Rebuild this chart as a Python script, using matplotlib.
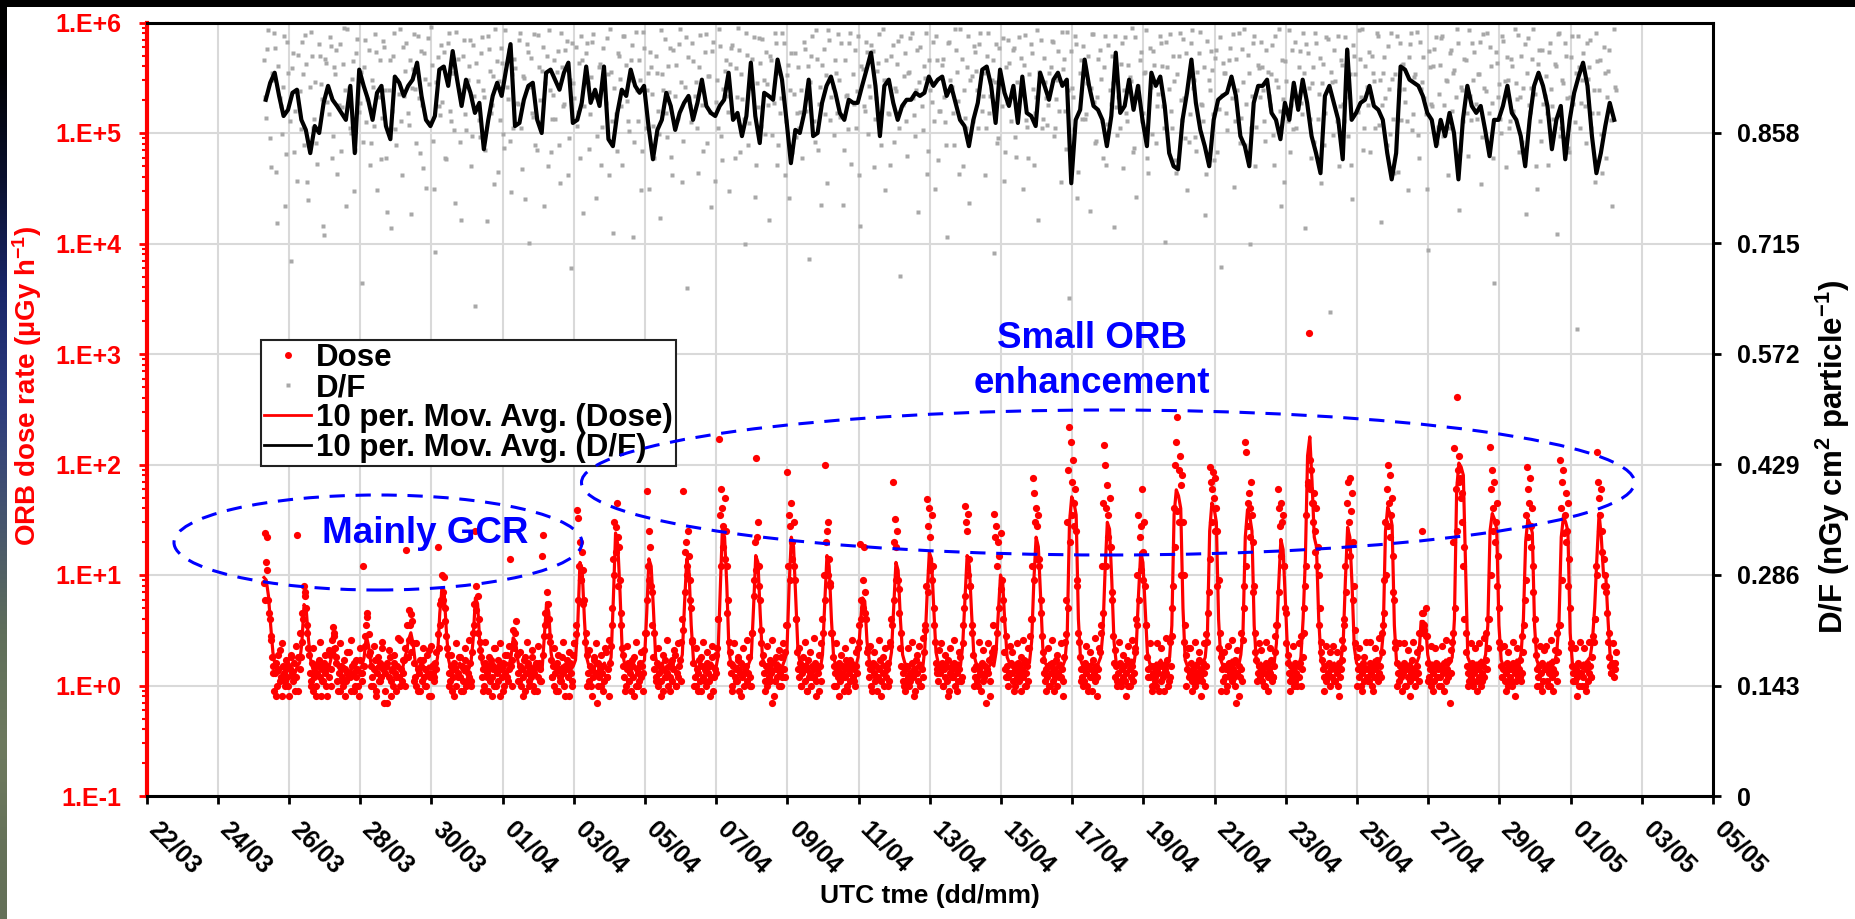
import numpy as np
import matplotlib
matplotlib.use("Agg")
import matplotlib.pyplot as plt
from matplotlib.patches import Ellipse, Rectangle
from matplotlib.lines import Line2D
from matplotlib.ticker import LogLocator, NullFormatter
from matplotlib.transforms import ScaledTranslation, blended_transform_factory

plt.rcParams['font.family'] = ['Liberation Sans', 'DejaVu Sans']
plt.rcParams['font.weight'] = 'bold'
plt.rcParams['mathtext.fontset'] = 'custom'
plt.rcParams['mathtext.rm'] = 'Liberation Sans:bold'
plt.rcParams['mathtext.it'] = 'Liberation Sans:bold'
plt.rcParams['mathtext.bf'] = 'Liberation Sans:bold'

# ---------------------------------------------------------------- data
# x axis in days after 22/03 00:00 UTC
x_tick_days = list(range(0, 45, 2))
x_tick_labels = ["22/03", "24/03", "26/03", "28/03", "30/03", "01/04", "03/04",
                 "05/04", "07/04", "09/04", "11/04", "13/04", "15/04", "17/04",
                 "19/04", "21/04", "23/04", "25/04", "27/04", "29/04", "01/05",
                 "03/05", "05/05"]
left_tick_values = [1e-1, 1e0, 1e1, 1e2, 1e3, 1e4, 1e5, 1e6]
left_tick_labels = ["1.E-1", "1.E+0", "1.E+1", "1.E+2", "1.E+3", "1.E+4", "1.E+5", "1.E+6"]
right_tick_values = [0, 0.143, 0.286, 0.429, 0.572, 0.715, 0.858]
right_tick_labels = ["0", "0.143", "0.286", "0.429", "0.572", "0.715", "0.858"]
legend_labels = ["Dose", "D/F", "10 per. Mov. Avg. (Dose)", "10 per. Mov. Avg. (D/F)"]

# Dose rate (uGy/h): one row per day starting at day 3.3, 32 samples per day
dose_start = 3.3
dose_rows = [
    [8.5, 24, 13, 22, 6.0, 4.0, 2.6, 1.8, 1.5, 0.9, 1.3, 1.6, 1.0, 1.4, 2.1, 1.2, 0.8, 1.5, 1.3, 1.1, 1.7, 1.2, 1.0, 1.4, 1.9, 1.3, 1.1, 1.6, 0.9, 1.2, 23, 1.8],
    [1.4, 1.8, 2.5, 4.0, 8.0, 6.5, 5.0, 3.0, 2.2, 1.3, 1.1, 1.6, 0.9, 1.2, 1.5, 1.0, 1.3, 1.7, 1.2, 0.8, 1.4, 1.1, 1.6, 1.3, 1.0, 1.5, 1.2, 1.9, 1.4, 2.6, 3.4, 2.8],
    [2.2, 1.6, 1.1, 1.3, 0.9, 1.5, 1.2, 1.0, 1.7, 1.4, 1.1, 1.3, 2.0, 1.2, 0.9, 1.5, 1.3, 1.6, 1.0, 1.2, 1.4, 0.8, 1.7, 1.3, 1.1, 12, 1.5, 2.3, 3.5, 4.2, 2.9, 2.0],
    [1.5, 1.2, 1.0, 1.4, 1.7, 0.9, 1.3, 1.1, 1.6, 1.2, 2.2, 1.4, 0.7, 1.3, 1.5, 0.7, 1.2, 1.8, 1.1, 1.4, 1.0, 1.6, 1.3, 0.9, 1.5, 1.2, 2.6, 1.4, 1.1, 1.3, 1.7, 1.0],
    [17, 1.8, 2.6, 3.5, 4.4, 3.8, 2.4, 1.6, 1.2, 1.0, 1.4, 1.3, 0.9, 1.5, 1.1, 1.7, 1.2, 1.4, 1.0, 1.3, 2.1, 1.2, 0.8, 1.5, 1.3, 1.1, 1.6, 1.4, 18, 2.2, 3.5, 6.0],
    [10, 7.0, 9.5, 5.0, 2.8, 1.9, 1.3, 1.1, 1.5, 0.9, 1.2, 1.6, 1.4, 1.0, 1.3, 1.8, 1.2, 0.9, 1.5, 1.1, 1.4, 1.7, 1.0, 1.3, 1.2, 1.6, 1.1, 2.0, 3.0, 5.5, 25, 8.0],
    [6.5, 4.0, 2.5, 1.8, 1.2, 1.4, 1.0, 1.6, 1.3, 0.9, 1.5, 1.1, 1.7, 1.2, 1.4, 1.0, 2.2, 1.3, 1.1, 1.5, 0.8, 1.4, 1.2, 1.6, 1.0, 1.3, 1.9, 1.1, 1.4, 14, 1.5, 1.7],
    [3.2, 2.4, 3.0, 1.9, 1.3, 1.1, 1.5, 1.0, 1.4, 1.2, 1.7, 0.9, 1.3, 1.6, 1.1, 1.4, 1.2, 1.8, 1.0, 1.3, 1.5, 0.9, 1.2, 1.6, 1.4, 1.1, 15, 23, 2.8, 4.5, 7.0, 5.5],
    [4.0, 2.5, 1.7, 1.2, 1.5, 1.0, 1.3, 1.6, 0.9, 1.4, 1.2, 1.1, 1.8, 1.3, 1.0, 1.5, 1.4, 1.2, 0.8, 1.6, 1.3, 1.1, 1.9, 2.4, 3.5, 39, 33, 12, 20, 9.0, 16, 11],
    [6.0, 3.0, 1.9, 1.3, 1.1, 1.5, 1.0, 1.4, 1.2, 1.7, 1.3, 0.7, 1.6, 1.2, 1.4, 1.0, 1.3, 1.5, 1.1, 2.0, 1.2, 1.4, 0.8, 1.6, 2.3, 5.0, 14, 30, 27, 45, 22, 18],
    [9.0, 4.5, 2.2, 1.5, 1.2, 1.0, 1.4, 1.6, 1.1, 1.3, 0.9, 1.5, 1.2, 1.8, 1.0, 1.4, 1.3, 1.1, 1.6, 1.2, 1.5, 0.9, 2.1, 3.0, 58, 12, 25, 18, 8.0, 3.5, 1.8, 1.4],
    [1.2, 1.6, 1.0, 1.3, 1.5, 1.1, 1.4, 0.9, 1.7, 1.2, 1.3, 1.0, 1.5, 1.2, 1.6, 1.1, 1.4, 1.9, 1.0, 1.3, 1.2, 1.5, 1.7, 2.5, 4.0, 58, 16, 20, 12, 25, 15, 9.0],
    [5.0, 2.5, 1.6, 1.2, 1.0, 1.4, 1.3, 1.7, 1.1, 0.9, 1.5, 1.2, 1.4, 1.0, 1.6, 1.3, 1.1, 1.5, 1.2, 1.8, 0.9, 1.4, 1.3, 2.2, 4.0, 170, 35, 60, 40, 28, 50, 25],
    [12, 6.0, 2.5, 1.6, 1.3, 1.0, 1.5, 1.2, 1.4, 1.1, 1.7, 0.9, 1.3, 1.6, 1.2, 1.0, 1.4, 1.5, 1.1, 1.3, 1.8, 1.2, 1.0, 3.0, 9.0, 20, 115, 22, 30, 12, 6.0, 2.4],
    [1.6, 1.3, 1.1, 1.5, 1.0, 1.4, 1.2, 1.7, 1.3, 0.7, 1.6, 1.1, 1.4, 1.2, 1.5, 1.0, 1.3, 1.8, 1.2, 1.4, 2.0, 3.5, 85, 12, 35, 28, 45, 20, 30, 9.0, 4.0, 2.0],
    [1.4, 1.2, 1.6, 1.0, 1.3, 1.5, 1.1, 1.4, 0.9, 1.7, 1.2, 1.3, 1.0, 1.5, 1.2, 1.6, 1.1, 1.4, 1.3, 0.9, 1.5, 2.4, 4.0, 10, 98, 20, 25, 30, 14, 8.0, 3.0, 1.8],
    [1.5, 1.3, 1.0, 1.4, 1.2, 1.6, 1.1, 1.3, 1.5, 0.9, 1.2, 1.7, 1.0, 1.4, 1.3, 1.1, 1.6, 1.2, 1.4, 1.0, 1.5, 1.3, 2.2, 3.5, 19, 6.0, 9.0, 18, 7.0, 4.0, 2.0, 1.6],
    [1.2, 1.4, 1.0, 1.6, 1.3, 1.1, 1.5, 0.9, 1.2, 1.4, 1.7, 1.1, 1.3, 1.0, 1.5, 1.2, 1.4, 1.6, 1.1, 2.3, 4.0, 70, 20, 32, 18, 25, 9.0, 4.5, 2.2, 1.5, 1.3, 1.0],
    [1.4, 1.1, 1.5, 1.2, 1.0, 1.3, 1.6, 1.2, 1.4, 0.9, 1.7, 1.3, 1.1, 1.5, 1.0, 1.4, 1.2, 2.0, 3.2, 8.0, 49, 28, 40, 22, 35, 12, 5.0, 2.5, 1.6, 1.3, 1.1, 1.4],
    [1.3, 1.6, 1.0, 1.4, 1.2, 1.5, 1.1, 1.7, 0.9, 1.3, 1.4, 1.2, 1.6, 1.0, 1.5, 1.3, 1.1, 1.4, 1.8, 1.2, 2.4, 5.0, 42, 30, 25, 36, 14, 8.0, 3.5, 1.9, 1.4, 1.2],
    [1.5, 1.2, 1.0, 1.4, 1.3, 1.6, 1.1, 1.2, 1.5, 0.7, 1.4, 1.3, 1.7, 1.1, 2.0, 3.5, 36, 22, 28, 12, 20, 15, 24, 9.0, 4.0, 2.0, 1.4, 1.2, 1.5, 1.0, 1.3, 1.6],
    [1.3, 1.1, 1.5, 1.0, 1.4, 1.2, 1.6, 1.3, 0.9, 1.4, 1.2, 1.7, 1.0, 1.3, 1.5, 1.1, 2.2, 4.0, 12, 75, 55, 30, 40, 28, 35, 14, 6.0, 2.8, 1.7, 1.3, 1.1, 1.4],
    [1.2, 1.5, 1.0, 1.3, 1.6, 1.1, 1.4, 1.2, 1.7, 1.0, 1.3, 1.5, 1.2, 1.4, 1.1, 1.8, 2.5, 6.0, 30, 90, 220, 160, 70, 110, 45, 60, 25, 8.0, 3.0, 1.8, 1.4, 1.2],
    [1.4, 1.1, 1.6, 1.3, 1.0, 1.5, 1.2, 1.4, 0.9, 1.7, 1.3, 1.1, 1.5, 1.2, 1.4, 2.0, 3.5, 12, 45, 150, 100, 40, 65, 35, 50, 18, 7.0, 2.8, 1.6, 1.2, 1.5, 1.1],
    [1.3, 1.6, 1.0, 1.4, 1.2, 1.5, 1.1, 1.3, 1.7, 1.0, 1.4, 1.2, 1.5, 1.1, 1.3, 2.2, 4.0, 10, 35, 22, 28, 60, 16, 30, 8.0, 3.5, 1.8, 1.4, 1.2, 1.5, 1.0, 1.3],
    [1.5, 1.2, 1.0, 1.4, 1.3, 1.6, 1.1, 1.5, 1.2, 0.9, 1.4, 1.3, 1.7, 1.1, 1.2, 1.5, 2.8, 8.0, 40, 100, 160, 270, 90, 120, 65, 80, 30, 10, 3.5, 1.9, 1.4, 1.2],
    [1.3, 1.6, 1.1, 1.4, 1.2, 1.0, 1.5, 1.3, 1.7, 1.2, 1.4, 1.1, 1.6, 1.3, 1.0, 1.5, 2.5, 7.0, 95, 70, 60, 85, 50, 75, 40, 25, 9.0, 3.0, 1.8, 1.4, 1.1, 1.5],
    [1.2, 1.4, 1.0, 1.6, 1.3, 1.5, 1.1, 1.4, 1.2, 1.7, 0.7, 1.3, 1.5, 1.2, 1.4, 1.1, 2.6, 8.0, 160, 130, 45, 55, 40, 70, 35, 20, 8.0, 3.0, 1.7, 1.3, 1.5, 1.2],
    [1.4, 1.1, 1.5, 1.3, 1.0, 1.6, 1.2, 1.4, 1.3, 1.7, 1.1, 1.2, 1.5, 2.0, 3.5, 60, 40, 28, 45, 30, 35, 12, 5.0, 2.4, 1.6, 1.3, 1.1, 1.5, 1.2, 1.4, 1.0, 1.6],
    [1.3, 1.5, 1.2, 1.6, 1.0, 1.4, 1.8, 3.0, 8.0, 35, 70, 1560, 60, 90, 45, 30, 55, 25, 40, 18, 10, 5.0, 2.5, 1.7, 1.4, 1.2, 1.5, 1.1, 1.3, 1.6, 1.0, 1.4],
    [1.2, 1.5, 1.1, 1.4, 1.3, 1.0, 1.6, 1.2, 1.4, 1.7, 2.2, 4.0, 12, 45, 70, 30, 75, 38, 55, 20, 8.0, 3.2, 1.8, 1.4, 1.2, 1.5, 1.0, 1.3, 1.6, 1.1, 1.4, 1.2],
    [1.4, 1.1, 1.6, 1.3, 1.0, 1.5, 1.2, 1.4, 1.7, 1.1, 1.3, 1.5, 1.2, 2.0, 3.5, 9.0, 30, 60, 100, 45, 80, 35, 50, 15, 6.0, 2.5, 1.6, 1.3, 1.1, 1.5, 1.2, 1.4],
    [1.3, 1.6, 1.0, 1.4, 1.2, 1.5, 1.1, 1.3, 1.7, 1.2, 1.4, 1.0, 1.5, 1.3, 1.1, 2.2, 3.0, 25, 4.5, 3.5, 5.0, 2.8, 1.6, 1.2, 1.4, 1.0, 1.5, 1.3, 1.1, 1.6, 1.2, 1.4],
    [1.5, 1.2, 1.0, 1.4, 1.3, 1.6, 1.1, 1.4, 1.2, 1.7, 0.7, 1.3, 2.5, 20, 140, 60, 410, 90, 120, 75, 50, 30, 12, 4.0, 2.0, 1.5, 1.3, 1.1, 1.4, 1.2, 1.6, 1.0],
    [1.3, 1.5, 1.1, 1.4, 1.2, 1.6, 1.0, 1.3, 1.5, 1.2, 1.7, 1.4, 2.2, 4.0, 145, 60, 90, 40, 70, 30, 45, 15, 5.0, 2.2, 1.5, 1.2, 1.4, 1.1, 1.3, 1.6, 1.0, 1.4],
    [1.2, 1.4, 1.0, 1.6, 1.3, 1.1, 1.5, 1.2, 1.4, 1.7, 1.1, 1.3, 2.0, 6.0, 35, 95, 60, 45, 75, 28, 40, 12, 4.0, 1.9, 1.4, 1.2, 1.5, 1.0, 1.3, 1.6, 1.1, 1.4],
    [1.4, 1.1, 1.5, 1.3, 1.0, 1.6, 1.2, 1.4, 1.3, 1.7, 1.1, 2.0, 3.5, 110, 40, 70, 90, 35, 55, 25, 45, 14, 5.0, 2.2, 1.5, 1.3, 1.1, 1.4, 1.2, 1.6, 1.0, 1.3],
    [1.3, 1.5, 1.2, 1.0, 1.4, 1.6, 1.1, 1.3, 1.5, 1.2, 1.8, 2.5, 4.0, 12, 130, 70, 50, 35, 60, 25, 14, 10, 8.0, 4.5, 2.5, 1.8, 1.5, 1.3, 1.6, 1.2, 1.4, 2.0],
]
# further dose samples, 16 per day, lying between the samples above
dose_rows_b = [
    [6.0, 11, 4.5, 2.8, 1.3, 0.8, 1.9, 1.1, 2.4, 1.0, 1.5, 0.8, 1.8, 1.2, 2.3, 0.9],
    [3.0, 4.5, 7.0, 3.5, 1.9, 1.0, 2.2, 0.8, 1.6, 2.5, 1.1, 1.9, 0.8, 2.1, 1.0, 3.0],
    [1.8, 0.9, 2.4, 1.1, 0.8, 2.0, 1.2, 2.6, 0.9, 1.7, 1.0, 2.2, 1.3, 2.8, 4.5, 1.9],
    [1.0, 2.3, 0.8, 1.8, 1.1, 2.5, 0.9, 1.6, 2.1, 0.8, 1.9, 1.2, 2.7, 1.0, 1.7, 2.2],
    [3.5, 4.8, 2.0, 1.1, 2.4, 0.9, 1.7, 2.2, 1.0, 1.9, 0.8, 2.3, 1.2, 2.0, 2.9, 5.5],
    [6.0, 3.8, 2.2, 1.0, 1.9, 0.8, 2.4, 1.2, 1.8, 0.9, 2.2, 1.1, 2.6, 1.0, 3.5, 4.8],
    [3.0, 2.1, 0.9, 2.5, 1.2, 1.8, 0.8, 2.2, 1.0, 1.7, 2.4, 0.9, 1.9, 1.2, 2.3, 1.0],
    [2.2, 3.8, 1.1, 2.0, 0.8, 1.8, 2.5, 1.0, 2.1, 0.9, 1.6, 2.3, 1.1, 1.9, 3.5, 4.0],
    [2.8, 1.2, 2.2, 0.9, 1.9, 1.1, 2.5, 0.8, 1.7, 2.0, 1.0, 2.4, 2.9, 6.0, 9.0, 5.5],
    [2.5, 1.0, 2.1, 0.8, 1.8, 2.4, 1.0, 1.9, 0.9, 2.2, 1.2, 2.6, 3.5, 10, 16, 8.0],
    [3.5, 1.9, 0.9, 2.3, 1.1, 1.7, 0.8, 2.5, 1.0, 2.0, 1.3, 3.0, 6.0, 9.0, 7.0, 3.0],
    [1.1, 2.2, 0.8, 1.9, 1.2, 2.6, 0.9, 1.7, 2.1, 1.0, 2.4, 1.1, 3.2, 7.0, 10, 6.0],
    [2.6, 1.0, 2.2, 0.9, 1.8, 2.5, 1.1, 2.0, 0.8, 2.3, 1.2, 1.9, 4.0, 12, 18, 14],
    [4.5, 2.0, 0.9, 2.4, 1.1, 1.8, 0.8, 2.2, 1.3, 2.6, 1.0, 3.0, 6.5, 11, 8.0, 3.2],
    [1.9, 0.9, 2.3, 1.1, 2.6, 0.8, 1.8, 2.1, 1.0, 2.4, 1.2, 3.5, 9.0, 14, 12, 4.0],
    [2.2, 1.0, 1.8, 2.5, 0.9, 2.0, 1.2, 2.7, 0.8, 1.9, 1.1, 3.0, 6.0, 10, 8.5, 3.0],
    [1.0, 2.4, 0.8, 1.9, 1.2, 2.2, 0.9, 1.7, 2.6, 1.1, 2.0, 2.5, 4.0, 5.0, 4.5, 2.2],
    [2.3, 0.9, 2.0, 1.2, 2.6, 0.8, 1.8, 2.2, 1.0, 2.5, 3.5, 6.0, 9.0, 7.5, 3.0, 1.1],
    [0.9, 2.2, 1.1, 2.5, 0.8, 1.9, 2.3, 1.0, 2.7, 3.5, 7.0, 11, 9.0, 3.5, 1.4, 2.1],
    [2.4, 1.0, 1.9, 0.8, 2.2, 1.2, 2.6, 0.9, 2.0, 1.1, 3.5, 6.5, 10, 8.0, 3.0, 1.0],
    [1.1, 2.5, 0.9, 2.1, 1.3, 2.4, 0.8, 1.8, 2.2, 3.0, 5.0, 7.5, 6.0, 2.8, 1.2, 2.3],
    [2.0, 0.9, 2.4, 1.1, 1.8, 2.6, 1.0, 2.2, 2.8, 4.0, 9.0, 14, 12, 4.5, 2.0, 0.9],
    [2.2, 1.0, 2.6, 0.9, 1.9, 1.2, 2.4, 0.8, 2.9, 5.0, 20, 35, 28, 9.0, 2.5, 1.1],
    [1.0, 2.3, 0.9, 2.0, 1.2, 2.7, 0.8, 2.2, 3.0, 4.5, 12, 22, 18, 6.0, 2.1, 1.0],
    [2.5, 1.1, 1.9, 0.8, 2.3, 1.0, 2.6, 2.0, 3.5, 6.0, 11, 9.0, 3.5, 1.2, 2.4, 0.9],
    [1.1, 2.4, 0.9, 2.2, 1.3, 2.7, 1.0, 2.5, 5.0, 18, 38, 30, 10, 2.5, 1.0, 2.2],
    [2.2, 0.9, 2.5, 1.1, 2.0, 0.8, 2.4, 2.9, 4.5, 14, 30, 25, 8.0, 2.2, 0.9, 2.0],
    [0.9, 2.3, 1.2, 2.6, 1.0, 2.1, 0.8, 3.0, 5.0, 12, 28, 22, 7.0, 2.0, 1.1, 2.4],
    [2.1, 1.0, 2.5, 0.9, 2.2, 1.2, 2.8, 3.5, 7.0, 15, 12, 4.5, 1.9, 0.9, 2.3, 1.1],
    [1.0, 2.4, 2.8, 5.0, 12, 65, 110, 45, 16, 12, 3.5, 2.0, 0.9, 2.3, 1.2, 2.0],
    [2.3, 1.1, 2.0, 0.8, 2.6, 3.5, 7.0, 18, 15, 6.0, 2.4, 1.0, 2.2, 0.9, 1.8, 2.5],
    [1.1, 2.5, 0.9, 2.2, 1.2, 2.7, 3.0, 4.5, 10, 28, 22, 7.0, 2.2, 1.0, 2.4, 0.9],
    [2.4, 1.0, 2.1, 0.8, 2.5, 1.2, 2.0, 3.0, 4.5, 3.2, 2.8, 1.1, 2.3, 0.9, 2.2, 1.2],
    [1.0, 2.3, 0.9, 2.6, 1.3, 2.1, 3.0, 5.0, 25, 70, 55, 18, 3.0, 1.0, 2.4, 1.1],
    [2.2, 0.9, 2.4, 1.1, 2.7, 3.0, 4.0, 10, 25, 20, 8.0, 2.5, 1.2, 2.3, 0.9, 2.0],
    [1.1, 2.5, 0.8, 2.2, 1.2, 2.8, 3.5, 9.0, 22, 18, 7.0, 2.6, 1.0, 2.3, 0.9, 2.1],
    [2.3, 1.0, 2.6, 0.9, 2.1, 3.0, 3.5, 9.0, 24, 20, 8.0, 2.4, 1.1, 2.2, 0.8, 2.5],
    [1.0, 2.2, 0.9, 2.5, 1.2, 2.8, 4.0, 10, 25, 16, 8.0, 7.0, 3.0, 1.3, 2.4, 1.6],
]

# 10-period moving average of dose: one row per day, 16 samples per day
dose_ma_rows = [
    [9.5, 9.0, 6.5, 3.5, 2.0, 1.5, 1.4, 1.3, 1.5, 1.4, 1.3, 1.6, 1.5, 1.4, 1.3, 1.5],
    [1.6, 2.4, 5.4, 4.8, 2.6, 1.7, 1.4, 1.3, 1.5, 1.4, 1.6, 1.5, 1.3, 1.4, 1.7, 2.2],
    [1.9, 1.5, 1.4, 1.3, 1.5, 1.4, 1.2, 1.4, 1.6, 1.5, 1.3, 1.4, 1.5, 1.8, 2.8, 2.3],
    [1.6, 1.4, 1.3, 1.5, 1.4, 1.6, 1.3, 1.4, 1.5, 1.3, 1.4, 1.6, 1.5, 1.4, 1.3, 1.7],
    [2.0, 2.6, 3.0, 2.4, 1.6, 1.4, 1.3, 1.5, 1.4, 1.3, 1.5, 1.4, 1.6, 1.4, 1.8, 4.5],
    [7.6, 6.8, 3.0, 1.7, 1.4, 1.3, 1.5, 1.4, 1.6, 1.4, 1.3, 1.5, 1.4, 1.6, 2.6, 6.2],
    [5.5, 2.4, 1.6, 1.4, 1.5, 1.3, 1.4, 1.6, 1.5, 1.4, 1.3, 1.5, 1.4, 1.6, 1.5, 1.8],
    [2.7, 2.5, 1.7, 1.4, 1.5, 1.3, 1.6, 1.4, 1.5, 1.4, 1.3, 1.6, 1.5, 1.4, 2.8, 5.6],
    [4.6, 2.0, 1.5, 1.4, 1.6, 1.3, 1.5, 1.4, 1.6, 1.5, 1.4, 1.5, 1.7, 3.5, 13, 11],
    [4.0, 1.8, 1.5, 1.4, 1.3, 1.6, 1.5, 1.4, 1.5, 1.6, 1.4, 1.5, 1.8, 6.0, 24, 19],
    [7.0, 2.0, 1.6, 1.4, 1.5, 1.3, 1.6, 1.4, 1.5, 1.4, 1.6, 1.7, 4.5, 14, 12, 5.0],
    [1.8, 1.5, 1.4, 1.6, 1.3, 1.5, 1.4, 1.6, 1.5, 1.4, 1.5, 1.6, 1.9, 5.5, 14, 11],
    [3.5, 1.7, 1.5, 1.4, 1.6, 1.5, 1.3, 1.5, 1.4, 1.6, 1.5, 1.4, 1.8, 7.0, 26, 22],
    [8.0, 2.0, 1.5, 1.6, 1.4, 1.5, 1.3, 1.6, 1.5, 1.4, 1.6, 1.8, 5.0, 15, 13, 4.5],
    [1.8, 1.5, 1.4, 1.6, 1.5, 1.3, 1.5, 1.6, 1.4, 1.5, 1.7, 2.0, 8.0, 22, 18, 6.0],
    [2.0, 1.6, 1.4, 1.5, 1.6, 1.4, 1.5, 1.3, 1.6, 1.5, 1.4, 1.9, 5.5, 15, 12, 4.0],
    [1.8, 1.5, 1.6, 1.4, 1.5, 1.3, 1.6, 1.5, 1.4, 1.6, 1.5, 1.8, 3.5, 6.2, 5.8, 2.5],
    [1.7, 1.5, 1.4, 1.6, 1.5, 1.4, 1.6, 1.5, 1.3, 1.5, 2.0, 5.0, 13, 11, 4.0, 1.9],
    [1.6, 1.5, 1.4, 1.6, 1.5, 1.4, 1.5, 1.6, 1.4, 2.2, 6.5, 16, 14, 5.0, 2.0, 1.6],
    [1.5, 1.4, 1.6, 1.5, 1.4, 1.6, 1.5, 1.4, 1.6, 1.5, 2.3, 6.0, 15, 12, 4.5, 1.9],
    [1.6, 1.5, 1.4, 1.6, 1.5, 1.4, 1.5, 1.6, 1.5, 2.0, 4.5, 10, 8.5, 3.5, 1.8, 1.6],
    [1.5, 1.4, 1.6, 1.5, 1.4, 1.6, 1.5, 1.7, 1.6, 2.5, 9.0, 22, 18, 6.5, 2.2, 1.6],
    [1.5, 1.6, 1.4, 1.5, 1.7, 1.5, 1.6, 1.5, 1.7, 3.0, 30, 51, 45, 35, 4.0, 1.7],
    [1.5, 1.6, 1.4, 1.5, 1.6, 1.5, 1.4, 1.6, 1.8, 3.0, 11, 30, 26, 9.0, 2.5, 1.6],
    [1.5, 1.6, 1.4, 1.5, 1.6, 1.5, 1.7, 1.6, 2.2, 6.5, 16, 13, 5.0, 2.0, 1.6, 1.5],
    [1.4, 1.6, 1.5, 1.7, 1.5, 1.6, 1.5, 1.8, 3.5, 35, 59, 52, 40, 5.0, 1.7, 1.5],
    [1.6, 1.5, 1.4, 1.6, 1.5, 1.7, 1.6, 1.8, 3.0, 25, 45, 40, 30, 4.0, 1.7, 1.5],
    [1.4, 1.6, 1.5, 1.7, 1.5, 1.6, 1.5, 1.9, 3.2, 22, 39, 34, 25, 3.5, 1.6, 1.5],
    [1.6, 1.5, 1.4, 1.6, 1.5, 1.7, 1.6, 2.4, 8.0, 21, 17, 6.0, 2.0, 1.6, 1.5, 1.4],
    [1.6, 1.5, 1.8, 4.0, 14, 120, 178, 70, 22, 18, 4.0, 1.8, 1.5, 1.4, 1.6, 1.5],
    [1.5, 1.6, 1.4, 1.5, 1.7, 2.4, 9.0, 27, 22, 8.0, 2.2, 1.6, 1.5, 1.4, 1.6, 1.5],
    [1.4, 1.6, 1.5, 1.7, 1.5, 1.6, 1.8, 3.0, 25, 41, 36, 28, 3.5, 1.6, 1.5, 1.4],
    [1.6, 1.5, 1.4, 1.6, 1.5, 1.4, 1.6, 1.8, 3.8, 3.8, 3.6, 1.9, 1.5, 1.6, 1.4, 1.5],
    [1.6, 1.5, 1.4, 1.7, 1.5, 1.6, 1.8, 4.0, 60, 103, 95, 80, 12, 1.8, 1.6, 1.5],
    [1.4, 1.6, 1.5, 1.7, 1.6, 1.9, 3.5, 25, 36, 32, 26, 3.5, 1.7, 1.5, 1.6, 1.4],
    [1.5, 1.6, 1.4, 1.7, 1.5, 2.0, 4.0, 20, 32, 29, 24, 3.5, 1.7, 1.5, 1.6, 1.5],
    [1.4, 1.6, 1.5, 1.7, 1.6, 2.0, 3.8, 22, 34, 30, 25, 3.0, 1.6, 1.5, 1.4, 1.6],
    [1.5, 1.6, 1.4, 1.7, 1.8, 2.5, 5.0, 14, 36, 22, 10, 10, 4.0, 1.8, 1.6, 1.5],
]

# D/F (nGy cm2 / particle): one row per day starting at day 3.3, 16 samples per day
df_start = 3.3
df_rows = [
    [0.953, 0.878, 0.991, 0.814, 0.926, 0.968, 0.742, 0.903, 0.857, 0.984, 0.831, 0.935, 0.692, 0.962, 0.887, 0.796],
    [0.912, 0.976, 0.843, 0.947, 0.771, 0.989, 0.865, 0.924, 0.818, 0.957, 0.902, 0.726, 0.948, 0.883, 0.971, 0.854],
    [0.934, 0.805, 0.973, 0.892, 0.994, 0.763, 0.916, 0.858, 0.951, 0.836, 0.979, 0.897, 0.664, 0.943, 0.872, 0.965],
    [0.845, 0.918, 0.986, 0.784, 0.952, 0.877, 0.969, 0.826, 0.913, 0.735, 0.958, 0.863, 0.927, 0.992, 0.803, 0.906],
    [0.974, 0.868, 0.753, 0.941, 0.915, 0.983, 0.832, 0.894, 0.961, 0.787, 0.922, 0.995, 0.848, 0.704, 0.956, 0.881],
    [0.898, 0.963, 0.824, 0.987, 0.873, 0.936, 0.768, 0.954, 0.846, 0.909, 0.978, 0.862, 0.945, 0.815, 0.972, 0.634],
    [0.925, 0.853, 0.982, 0.904, 0.744, 0.967, 0.884, 0.932, 0.993, 0.807, 0.875, 0.949, 0.838, 0.917, 0.966, 0.782],
    [0.864, 0.942, 0.895, 0.988, 0.812, 0.929, 0.973, 0.716, 0.955, 0.879, 0.843, 0.985, 0.901, 0.938, 0.764, 0.958],
    [0.991, 0.834, 0.907, 0.876, 0.964, 0.793, 0.944, 0.896, 0.977, 0.852, 0.683, 0.923, 0.969, 0.885, 0.825, 0.953],
    [0.893, 0.975, 0.837, 0.931, 0.986, 0.774, 0.905, 0.947, 0.866, 0.921, 0.981, 0.804, 0.937, 0.728, 0.882, 0.962],
    [0.928, 0.816, 0.984, 0.899, 0.861, 0.952, 0.723, 0.989, 0.874, 0.926, 0.835, 0.968, 0.914, 0.786, 0.943, 0.867],
    [0.957, 0.886, 0.748, 0.934, 0.979, 0.853, 0.911, 0.827, 0.966, 0.946, 0.878, 0.992, 0.795, 0.918, 0.657, 0.903],
    [0.872, 0.951, 0.924, 0.806, 0.985, 0.894, 0.963, 0.845, 0.932, 0.762, 0.976, 0.898, 0.864, 0.971, 0.823, 0.938],
    [0.906, 0.783, 0.968, 0.877, 0.942, 0.994, 0.834, 0.902, 0.714, 0.959, 0.871, 0.927, 0.982, 0.816, 0.891, 0.948],
    [0.979, 0.857, 0.921, 0.746, 0.953, 0.897, 0.974, 0.842, 0.884, 0.987, 0.803, 0.933, 0.774, 0.961, 0.908, 0.853],
    [0.944, 0.885, 0.826, 0.967, 0.913, 0.695, 0.958, 0.874, 0.991, 0.836, 0.917, 0.946, 0.882, 0.793, 0.978, 0.904],
    [0.856, 0.935, 0.986, 0.879, 0.765, 0.952, 0.907, 0.974, 0.818, 0.896, 0.864, 0.983, 0.738, 0.941, 0.887, 0.963],
    [0.919, 0.972, 0.814, 0.903, 0.948, 0.868, 0.993, 0.784, 0.926, 0.883, 0.957, 0.846, 0.912, 0.977, 0.673, 0.894],
    [0.962, 0.828, 0.937, 0.988, 0.881, 0.914, 0.756, 0.969, 0.862, 0.929, 0.805, 0.953, 0.898, 0.873, 0.984, 0.823],
    [0.886, 0.954, 0.872, 0.724, 0.976, 0.918, 0.843, 0.965, 0.899, 0.992, 0.815, 0.878, 0.943, 0.767, 0.932, 0.971],
    [0.938, 0.865, 0.987, 0.906, 0.804, 0.957, 0.884, 0.927, 0.703, 0.973, 0.852, 0.921, 0.981, 0.834, 0.897, 0.949],
    [0.913, 0.968, 0.827, 0.893, 0.955, 0.786, 0.985, 0.866, 0.934, 0.962, 0.817, 0.905, 0.745, 0.978, 0.876, 0.924],
    [0.868, 0.936, 0.977, 0.854, 0.902, 0.964, 0.794, 0.941, 0.887, 0.989, 0.645, 0.916, 0.863, 0.973, 0.808, 0.952],
    [0.971, 0.876, 0.923, 0.757, 0.986, 0.898, 0.847, 0.954, 0.928, 0.825, 0.983, 0.869, 0.914, 0.958, 0.736, 0.892],
    [0.904, 0.947, 0.813, 0.982, 0.874, 0.931, 0.994, 0.838, 0.775, 0.919, 0.963, 0.884, 0.937, 0.826, 0.968, 0.857],
    [0.946, 0.845, 0.908, 0.974, 0.893, 0.717, 0.943, 0.986, 0.864, 0.925, 0.806, 0.957, 0.901, 0.979, 0.852, 0.784],
    [0.883, 0.991, 0.927, 0.835, 0.962, 0.896, 0.874, 0.752, 0.977, 0.914, 0.939, 0.823, 0.966, 0.889, 0.685, 0.948],
    [0.935, 0.862, 0.968, 0.903, 0.788, 0.954, 0.987, 0.877, 0.924, 0.843, 0.959, 0.714, 0.906, 0.983, 0.866, 0.942],
    [0.976, 0.914, 0.848, 0.937, 0.894, 0.972, 0.817, 0.926, 0.993, 0.764, 0.902, 0.951, 0.873, 0.834, 0.965, 0.918],
    [0.864, 0.943, 0.897, 0.988, 0.735, 0.961, 0.876, 0.923, 0.846, 0.974, 0.908, 0.793, 0.947, 0.884, 0.979, 0.626],
    [0.924, 0.966, 0.873, 0.815, 0.953, 0.896, 0.982, 0.854, 0.934, 0.772, 0.958, 0.887, 0.991, 0.905, 0.836, 0.945],
    [0.894, 0.833, 0.957, 0.925, 0.987, 0.868, 0.743, 0.936, 0.903, 0.971, 0.857, 0.928, 0.806, 0.984, 0.913, 0.875],
    [0.947, 0.898, 0.784, 0.973, 0.862, 0.931, 0.989, 0.826, 0.915, 0.956, 0.882, 0.706, 0.944, 0.893, 0.967, 0.845],
    [0.908, 0.981, 0.854, 0.926, 0.803, 0.962, 0.887, 0.939, 0.992, 0.758, 0.917, 0.874, 0.953, 0.828, 0.906, 0.975],
    [0.963, 0.876, 0.934, 0.792, 0.986, 0.912, 0.843, 0.969, 0.897, 0.664, 0.948, 0.921, 0.858, 0.977, 0.814, 0.927],
    [0.874, 0.945, 0.993, 0.902, 0.834, 0.958, 0.916, 0.753, 0.981, 0.885, 0.954, 0.908, 0.785, 0.966, 0.847, 0.896],
    [0.932, 0.816, 0.974, 0.893, 0.947, 0.727, 0.988, 0.864, 0.923, 0.957, 0.838, 0.904, 0.983, 0.872, 0.604, 0.943],
    [0.897, 0.962, 0.845, 0.928, 0.978, 0.884, 0.794, 0.951, 0.913, 0.857, 0.969, 0.826, 0.938, 0.886, 0.763, 0.917],
]
# further D/F samples, 16 per day, lying between the samples above
df_rows_b = [
    [0.904, 0.967, 0.852, 0.936, 0.988, 0.807, 0.945, 0.893, 0.918, 0.764, 0.976, 0.874, 0.942, 0.833, 0.912, 0.959],
    [0.863, 0.934, 0.985, 0.794, 0.917, 0.958, 0.876, 0.845, 0.973, 0.921, 0.737, 0.954, 0.898, 0.982, 0.826, 0.943],
    [0.966, 0.894, 0.835, 0.947, 0.913, 0.992, 0.864, 0.928, 0.783, 0.961, 0.885, 0.937, 0.846, 0.978, 0.902, 0.817],
    [0.926, 0.867, 0.963, 0.905, 0.824, 0.977, 0.914, 0.756, 0.953, 0.886, 0.987, 0.843, 0.908, 0.873, 0.969, 0.938],
    [0.884, 0.952, 0.916, 0.986, 0.845, 0.903, 0.964, 0.813, 0.928, 0.981, 0.872, 0.946, 0.786, 0.924, 0.893, 0.972],
    [0.943, 0.826, 0.974, 0.887, 0.935, 0.862, 0.989, 0.914, 0.745, 0.957, 0.883, 0.926, 0.978, 0.854, 0.906, 0.948],
    [0.875, 0.962, 0.913, 0.836, 0.984, 0.938, 0.894, 0.792, 0.951, 0.925, 0.968, 0.857, 0.991, 0.902, 0.847, 0.934],
    [0.954, 0.897, 0.978, 0.864, 0.932, 0.773, 0.963, 0.917, 0.884, 0.986, 0.836, 0.944, 0.872, 0.969, 0.923, 0.815],
    [0.914, 0.876, 0.952, 0.937, 0.843, 0.988, 0.893, 0.965, 0.804, 0.926, 0.974, 0.903, 0.867, 0.948, 0.983, 0.754],
    [0.961, 0.924, 0.883, 0.976, 0.905, 0.854, 0.943, 0.816, 0.968, 0.897, 0.934, 0.992, 0.874, 0.916, 0.835, 0.957],
    [0.893, 0.984, 0.946, 0.873, 0.927, 0.972, 0.846, 0.914, 0.953, 0.784, 0.989, 0.865, 0.936, 0.963, 0.908, 0.826],
    [0.935, 0.857, 0.991, 0.913, 0.884, 0.945, 0.968, 0.803, 0.906, 0.875, 0.973, 0.924, 0.847, 0.982, 0.956, 0.893],
    [0.974, 0.906, 0.864, 0.943, 0.917, 0.835, 0.986, 0.932, 0.885, 0.964, 0.796, 0.927, 0.993, 0.854, 0.915, 0.952],
    [0.885, 0.947, 0.972, 0.826, 0.904, 0.965, 0.934, 0.876, 0.988, 0.843, 0.916, 0.954, 0.775, 0.923, 0.981, 0.867],
    [0.926, 0.963, 0.894, 0.957, 0.856, 0.987, 0.817, 0.935, 0.903, 0.974, 0.873, 0.946, 0.914, 0.834, 0.962, 0.884],
    [0.864, 0.913, 0.976, 0.887, 0.945, 0.924, 0.983, 0.846, 0.954, 0.896, 0.765, 0.967, 0.933, 0.991, 0.875, 0.918],
    [0.953, 0.884, 0.927, 0.974, 0.836, 0.906, 0.863, 0.988, 0.934, 0.965, 0.912, 0.804, 0.945, 0.893, 0.976, 0.857],
    [0.905, 0.964, 0.876, 0.938, 0.986, 0.843, 0.927, 0.953, 0.884, 0.817, 0.972, 0.916, 0.947, 0.865, 0.983, 0.932],
    [0.874, 0.936, 0.981, 0.903, 0.854, 0.965, 0.924, 0.893, 0.945, 0.988, 0.835, 0.914, 0.976, 0.786, 0.953, 0.887],
    [0.946, 0.904, 0.843, 0.975, 0.926, 0.884, 0.992, 0.937, 0.805, 0.954, 0.913, 0.865, 0.984, 0.927, 0.873, 0.963],
    [0.914, 0.973, 0.886, 0.935, 0.864, 0.987, 0.906, 0.952, 0.924, 0.845, 0.968, 0.893, 0.796, 0.943, 0.978, 0.874],
    [0.965, 0.853, 0.924, 0.982, 0.907, 0.946, 0.875, 0.826, 0.973, 0.915, 0.884, 0.991, 0.937, 0.864, 0.955, 0.903],
    [0.894, 0.943, 0.976, 0.865, 0.927, 0.886, 0.989, 0.954, 0.837, 0.913, 0.964, 0.905, 0.983, 0.774, 0.936, 0.876],
    [0.934, 0.883, 0.957, 0.916, 0.986, 0.845, 0.904, 0.965, 0.873, 0.944, 0.816, 0.972, 0.895, 0.923, 0.984, 0.856],
    [0.865, 0.974, 0.913, 0.884, 0.946, 0.925, 0.834, 0.982, 0.906, 0.953, 0.874, 0.936, 0.991, 0.806, 0.917, 0.964],
    [0.924, 0.893, 0.983, 0.945, 0.864, 0.976, 0.915, 0.886, 0.957, 0.823, 0.934, 0.987, 0.875, 0.903, 0.962, 0.846],
    [0.975, 0.916, 0.853, 0.937, 0.989, 0.894, 0.943, 0.805, 0.926, 0.964, 0.883, 0.955, 0.834, 0.982, 0.907, 0.936],
    [0.884, 0.953, 0.924, 0.986, 0.873, 0.914, 0.845, 0.967, 0.993, 0.896, 0.935, 0.864, 0.974, 0.815, 0.946, 0.905],
    [0.943, 0.874, 0.965, 0.906, 0.934, 0.856, 0.984, 0.917, 0.886, 0.953, 0.794, 0.925, 0.991, 0.894, 0.863, 0.976],
    [0.906, 0.964, 0.883, 0.935, 0.973, 0.916, 0.825, 0.944, 0.987, 0.876, 0.955, 0.923, 0.843, 0.982, 0.914, 0.937],
    [0.856, 0.925, 0.984, 0.893, 0.946, 0.874, 0.963, 0.905, 0.816, 0.972, 0.934, 0.885, 0.954, 0.992, 0.864, 0.917],
    [0.963, 0.904, 0.935, 0.865, 0.983, 0.926, 0.894, 0.956, 0.843, 0.915, 0.988, 0.876, 0.934, 0.807, 0.975, 0.946],
    [0.915, 0.874, 0.956, 0.987, 0.883, 0.934, 0.855, 0.976, 0.924, 0.903, 0.785, 0.964, 0.896, 0.945, 0.982, 0.866],
    [0.946, 0.983, 0.894, 0.925, 0.864, 0.965, 0.936, 0.905, 0.974, 0.836, 0.913, 0.954, 0.884, 0.991, 0.875, 0.926],
    [0.895, 0.934, 0.976, 0.853, 0.916, 0.988, 0.884, 0.945, 0.825, 0.963, 0.904, 0.876, 0.984, 0.925, 0.956, 0.864],
    [0.954, 0.886, 0.923, 0.985, 0.904, 0.846, 0.973, 0.935, 0.894, 0.916, 0.992, 0.815, 0.947, 0.873, 0.965, 0.906],
    [0.884, 0.963, 0.915, 0.876, 0.945, 0.986, 0.854, 0.927, 0.974, 0.903, 0.834, 0.956, 0.895, 0.936, 0.983, 0.865],
    [0.926, 0.893, 0.975, 0.944, 0.865, 0.914, 0.987, 0.884, 0.953, 0.806, 0.935, 0.904, 0.966, 0.875, 0.992, 0.914],
]

# 10-period moving average of D/F, every 1/8 day from day 3.35
df_ma_start = 3.35
df_ma_step = 0.125
df_ma = [
    0.901, 0.923, 0.936, 0.906, 0.880, 0.888, 0.910, 0.914, 0.875, 0.862,
    0.832, 0.867, 0.858, 0.897, 0.919, 0.901, 0.893, 0.884, 0.875, 0.919,
    0.832, 0.940, 0.919, 0.901, 0.875, 0.910, 0.919, 0.867, 0.850, 0.931,
    0.923, 0.906, 0.919, 0.927, 0.949, 0.906, 0.875, 0.867, 0.880, 0.940,
    0.944, 0.919, 0.964, 0.927, 0.893, 0.927, 0.910, 0.884, 0.897, 0.837,
    0.875, 0.906, 0.923, 0.906, 0.940, 0.973, 0.867, 0.871, 0.901, 0.919,
    0.923, 0.875, 0.858, 0.936, 0.940, 0.927, 0.914, 0.936, 0.949, 0.871,
    0.875, 0.897, 0.944, 0.897, 0.914, 0.893, 0.944, 0.850, 0.841, 0.884,
    0.914, 0.906, 0.940, 0.919, 0.910, 0.919, 0.867, 0.824, 0.862, 0.875,
    0.910, 0.893, 0.862, 0.884, 0.897, 0.906, 0.875, 0.897, 0.927, 0.893,
    0.884, 0.880, 0.893, 0.901, 0.936, 0.875, 0.884, 0.854, 0.880, 0.949,
    0.880, 0.845, 0.910, 0.906, 0.901, 0.953, 0.927, 0.875, 0.819, 0.862,
    0.858, 0.884, 0.927, 0.854, 0.858, 0.897, 0.919, 0.931, 0.910, 0.884,
    0.875, 0.901, 0.897, 0.897, 0.919, 0.940, 0.962, 0.919, 0.854, 0.919,
    0.927, 0.897, 0.875, 0.893, 0.901, 0.901, 0.910, 0.906, 0.910, 0.931,
    0.919, 0.927, 0.931, 0.906,
    0.919, 0.897, 0.875, 0.867, 0.841, 0.875, 0.897, 0.940, 0.944, 0.919,
    0.871, 0.940, 0.910, 0.893, 0.919, 0.871, 0.931, 0.884, 0.880, 0.867,
    0.936, 0.919, 0.901, 0.927, 0.936, 0.919, 0.927, 0.793, 0.875, 0.888,
    0.953, 0.919, 0.893, 0.888, 0.875, 0.841, 0.880, 0.962, 0.884, 0.893,
    0.927, 0.888, 0.919, 0.875, 0.841, 0.936, 0.919, 0.931, 0.893, 0.832,
    0.815, 0.811, 0.875, 0.910, 0.953, 0.897, 0.862, 0.841, 0.815, 0.875,
    0.901, 0.906, 0.910, 0.931, 0.906, 0.854, 0.841, 0.815, 0.897, 0.919,
    0.919, 0.927, 0.884, 0.875, 0.850, 0.897, 0.875, 0.923, 0.888, 0.927,
    0.897, 0.854, 0.832, 0.806, 0.906, 0.919, 0.897, 0.875, 0.824, 0.966,
    0.875, 0.884, 0.897, 0.901, 0.919, 0.893, 0.888, 0.875, 0.832, 0.798,
    0.832, 0.944, 0.940, 0.927, 0.923, 0.919, 0.906, 0.884, 0.875, 0.841,
    0.875, 0.854, 0.884, 0.858, 0.798, 0.875, 0.919, 0.893, 0.884, 0.893,
    0.862, 0.828, 0.875, 0.875, 0.893, 0.919, 0.884, 0.875, 0.854, 0.815,
    0.875, 0.919, 0.936, 0.919, 0.893, 0.837, 0.875, 0.893, 0.824, 0.875,
    0.910, 0.931, 0.949, 0.919, 0.854, 0.806, 0.832, 0.867, 0.897, 0.875,
]


def expand(rows, start, shift=0.0):
    t, v = [], []
    for k, row in enumerate(rows):
        n = len(row)
        for j, val in enumerate(row):
            t.append(start + k + (j + shift) / n)
            v.append(val)
    return np.array(t), np.array(v)


t_d1, v_d1 = expand(dose_rows, dose_start)
t_d2, v_d2 = expand(dose_rows_b, dose_start, 0.25)
t_dose = np.concatenate([t_d1, t_d2])
v_dose = np.concatenate([v_d1, v_d2])
t_dma, v_dma = expand(dose_ma_rows, dose_start)
t_f1, v_f1 = expand(df_rows, df_start)
t_f2, v_f2 = expand(df_rows_b, df_start, 0.5)
t_df = np.concatenate([t_f1, t_f2])
v_df = np.concatenate([v_f1, v_f2])
t_dfma = df_ma_start + df_ma_step * np.arange(len(df_ma))
v_dfma = np.array(df_ma)

# ---------------------------------------------------------------- figure
W, H = 1856, 919
fig = plt.figure(figsize=(W / 100, H / 100), dpi=100)
fig.patch.set_facecolor('white')

# slide frame: black strip on top, dark picture strip at left
fig.patches.append(Rectangle((0, 1 - 7 / H), 1, 7 / H, transform=fig.transFigure,
                             facecolor='black', edgecolor='none', zorder=0))
strip_colors = np.array([[0, 0, 0], [10, 16, 45], [25, 38, 105], [45, 60, 125],
                         [70, 85, 110], [95, 110, 90], [110, 122, 95], [100, 112, 88]]) / 255.0
sax = fig.add_axes([0, 0, 7 / W, 1 - 7 / H])
sax.imshow(strip_colors[:, None, :], aspect='auto', interpolation='bilinear')
sax.axis('off')

L, R, B, T = 146.5, 1713.0, 796.0, 22.5
ax = fig.add_axes([L / W, 1 - B / H, (R - L) / W, (B - T) / H])
ax2 = ax.twinx()

RED = '#ff0000'
GRAY = '#a8a8a8'

# dose
ax.plot(t_dose, v_dose, ls='none', marker='o', ms=5.2, color=RED, mec='none', zorder=2)
ax.plot(t_dma, v_dma, color=RED, lw=2.3, zorder=3)
ax.set_yscale('log')
ax.set_ylim(0.1, 1e6)
ax.set_xlim(0, 44)
ax.set_axisbelow(True)
ax.grid(True, which='major', color='#d9d9d9', lw=1.5)

ax.set_yticks(left_tick_values)
ax.set_yticklabels(left_tick_labels)
ax.yaxis.set_minor_locator(LogLocator(base=10, subs=np.arange(2, 10)))
ax.yaxis.set_minor_formatter(NullFormatter())
ax.tick_params(axis='y', which='major', colors=RED, labelcolor=RED, length=6, width=2,
               direction='out', pad=12, labelsize=18)
ax.tick_params(axis='y', which='minor', colors=RED, length=3.5, width=1.5, direction='out')

ax.set_xticks(x_tick_days)
ax.set_xticklabels([])
ax.tick_params(axis='x', length=5.5, width=2, direction='out', colors='black')
xtrans = blended_transform_factory(ax.transData, ax.transAxes) + \
    ScaledTranslation(14 / 100, -21 / 100, fig.dpi_scale_trans)
for d, lab in zip(x_tick_days, x_tick_labels):
    ax.text(d, 0, lab, transform=xtrans, rotation=-45, rotation_mode='anchor',
            ha='left', va='top', fontsize=18, fontweight='bold', color='black')

for s in ['top', 'bottom']:
    ax.spines[s].set_color('black')
    ax.spines[s].set_linewidth(2.2)
ax.spines['left'].set_color(RED)
ax.spines['left'].set_linewidth(3)
ax.spines['right'].set_visible(False)

# D/F
ax2.plot(t_df, v_df, ls='none', marker='s', ms=2.6, color=GRAY, mec='none', zorder=1)
ax2.plot(t_dfma, v_dfma, color='black', lw=3.0, zorder=3)
ax2.set_ylim(0, 1.001)
ax2.set_yticks(right_tick_values)
ax2.set_yticklabels(right_tick_labels)
ax2.tick_params(axis='y', length=5.5, width=2, direction='out', pad=11.5, labelsize=18,
                colors='black')
for s in ['top', 'bottom', 'left']:
    ax2.spines[s].set_visible(False)
ax2.spines['right'].set_color('black')
ax2.spines['right'].set_linewidth(2.2)

# axis titles
fig.text(27 / W, 1 - 386 / H, 'ORB dose rate (µGy h$^{-1}$)', rotation=90, color=RED,
         fontsize=20, fontweight='bold', ha='center', va='center')
fig.text(1833 / W, 1 - 457 / H, 'D/F (nGy cm$^{2}$ particle$^{-1}$)', rotation=90,
         color='black', fontsize=22.5, fontweight='bold', ha='center', va='center')
fig.text((L + R) / 2 / W, 1 - 896 / H, 'UTC tme (dd/mm)', color='black',
         fontsize=19, fontweight='bold', ha='center', va='center')


def axx(px):
    return (px - L) / (R - L)


def axy(py):
    return (B - py) / (B - T)


# legend
handles = [Line2D([], [], ls='none', marker='o', ms=5, color=RED, mec='none'),
           Line2D([], [], ls='none', marker='s', ms=2.5, color=GRAY, mec='none'),
           Line2D([], [], color=RED, lw=2),
           Line2D([], [], color='black', lw=2)]
leg = ax2.legend(handles, legend_labels, loc='upper left',
                 bbox_to_anchor=(axx(261), axy(340)), bbox_transform=ax2.transAxes,
                 borderaxespad=0, frameon=True, fancybox=False, framealpha=1,
                 edgecolor='#222222', prop={'weight': 'bold', 'size': 22.5},
                 handlelength=1.5, handletextpad=0.15, borderpad=0.1,
                 labelspacing=0.0)
leg.get_frame().set_linewidth(1.5)
leg.set_zorder(6)

# annotations
BLUE = '#0000ff'
e1 = Ellipse((axx(378), axy(542.5)), width=408 / (R - L), height=95 / (B - T),
             transform=ax2.transAxes, fill=False, edgecolor=BLUE, lw=2.2,
             linestyle=(0, (5, 3.5)), zorder=7)
e2 = Ellipse((axx(1108), axy(482.5)), width=1053 / (R - L), height=145 / (B - T),
             transform=ax2.transAxes, fill=False, edgecolor=BLUE, lw=2.2,
             linestyle=(0, (5, 3.5)), zorder=7)
ax2.add_patch(e1)
ax2.add_patch(e2)
ax2.text(axx(425), axy(543), 'Mainly GCR', transform=ax2.transAxes, color=BLUE,
         fontsize=26.5, fontweight='bold', ha='center', va='baseline', zorder=8)
ax2.text(axx(1091.7), axy(348.3), 'Small ORB', transform=ax2.transAxes, color=BLUE,
         fontsize=26.5, fontweight='bold', ha='center', va='baseline', zorder=8)
ax2.text(axx(1091.7), axy(393.3), 'enhancement', transform=ax2.transAxes, color=BLUE,
         fontsize=26.5, fontweight='bold', ha='center', va='baseline', zorder=8)

fig.savefig('out.png', dpi=100, facecolor='white')
